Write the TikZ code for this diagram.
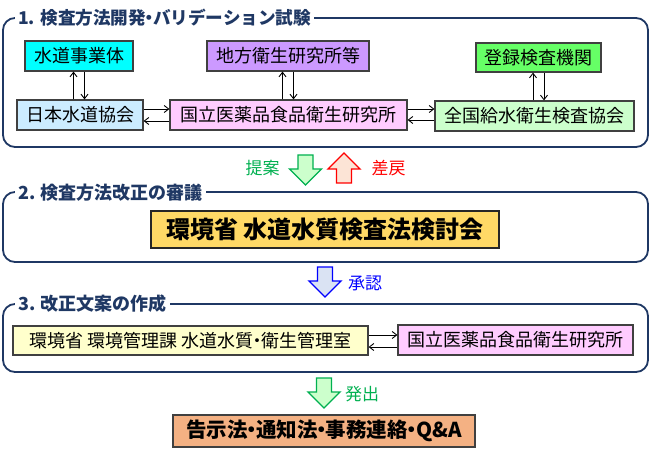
\documentclass[tikz,border=0pt]{standalone}
\usepackage{fontspec}
\setmainfont{Noto Sans CJK JP}
\usetikzlibrary{arrows.meta}
\newcommand{\nkg}{\kern-0.3em・\kern-0.3em}
\definecolor{navy}{HTML}{1F3864}
\definecolor{edge}{HTML}{404040}
\definecolor{cyanbox}{HTML}{00FFFF}
\definecolor{purplebox}{HTML}{CC99FF}
\definecolor{greenbox}{HTML}{66FF66}
\definecolor{lightblue}{HTML}{CCECFF}
\definecolor{pinkbox}{HTML}{FFCCFF}
\definecolor{lightgreen}{HTML}{CCFFCC}
\definecolor{goldbox}{HTML}{FFD966}
\definecolor{creambox}{HTML}{FFFFCC}
\definecolor{salmonbox}{HTML}{F4B183}
\definecolor{okgreen}{HTML}{00B050}
\definecolor{peach}{HTML}{FCE4D6}
\definecolor{paleblue}{HTML}{DAE3F3}
\definecolor{bluetext}{HTML}{0000FF}
\tikzset{
  panel/.style={draw=navy, line width=1.8pt, rounded corners=12pt},
  paneltitle/.style={fill=white, text=navy, font=\fontsize{18}{18}\selectfont\bfseries, anchor=west, inner xsep=3pt, inner ysep=1pt},
  box/.style={draw=edge, line width=1.2pt, inner sep=0pt, font=\fontsize{18}{18}\selectfont},
  bigbox/.style={draw=black!85, line width=2pt, inner sep=0pt, font=\fontsize{24}{24}\selectfont\bfseries},
  sarrow/.style={line width=0.9pt, -{Straight Barb[length=4.5pt,width=7pt]}},
  lbl/.style={font=\fontsize{17}{17}\selectfont, inner sep=0pt},
  blockdown/.pic={\path[pic actions] (-7.5,0) -- (7.5,0) -- (7.5,14) -- (16,14) -- (0,30) -- (-16,14) -- (-7.5,14) -- cycle;},
  blk/.style={line width=1.4pt, line join=miter}
}
\begin{document}
\begin{tikzpicture}[x=1pt,y=-1pt]
\useasboundingbox[fill=white] (0,0) rectangle (650,457);

% panels
\draw[panel] (3,18) rectangle (648,147);
\node[paneltitle, font=\fontsize{17.6}{17.6}\selectfont\bfseries] (t1) at (15,18) {1. 検査方法開発\nkg バリデーション試験};
\draw[panel] (3,192) rectangle (648,262);
\node[paneltitle] (t2) at (15,193) {2. 検査方法改正の審議};
\draw[panel] (3,304) rectangle (648,372);
\node[paneltitle] (t3) at (15,304) {3. 改正文案の作成};

% panel 1 nodes
\node[box, fill=cyanbox, minimum width=108pt, minimum height=30pt] (sd) at (79,56) {水道事業体};
\node[box, fill=purplebox, minimum width=162pt, minimum height=30pt] (chiho) at (288,56) {地方衛生研究所等};
\node[box, fill=greenbox, minimum width=125pt, minimum height=29pt] (toroku) at (538.5,57.5) {登録検査機関};
\node[box, fill=lightblue, minimum width=126pt, minimum height=30pt] (nihon) at (80,115) {日本水道協会};
\node[box, fill=pinkbox, minimum width=237pt, minimum height=30pt] (nihs) at (288.5,115) {国立医薬品食品衛生研究所};
\node[box, fill=lightgreen, minimum width=199pt, minimum height=30pt] (zenkoku) at (534.5,116) {全国給水衛生検査協会};

% vertical arrows
\draw[sarrow] ([xshift=-5.5pt]sd.south |- nihon.north) -- ([xshift=-5.5pt]sd.south);
\draw[sarrow] ([xshift=5.5pt]sd.south) -- ([xshift=5.5pt]sd.south |- nihon.north);
\draw[sarrow] ([xshift=-5.5pt]chiho.south |- nihs.north) -- ([xshift=-5.5pt]chiho.south);
\draw[sarrow] ([xshift=5.5pt]chiho.south) -- ([xshift=5.5pt]chiho.south |- nihs.north);
\draw[sarrow] ([xshift=-5.5pt]toroku.south |- zenkoku.north) -- ([xshift=-5.5pt]toroku.south);
\draw[sarrow] ([xshift=5.5pt]toroku.south) -- ([xshift=5.5pt]toroku.south |- zenkoku.north);

% horizontal arrows
\draw[sarrow] ([yshift=6pt]nihon.east) -- ([yshift=6pt]nihon.east -| nihs.west);
\draw[sarrow] ([yshift=-6pt]nihon.east -| nihs.west) -- ([yshift=-6pt]nihon.east);
\draw[sarrow] ([yshift=6pt]nihs.east) -- ([yshift=6pt]nihs.east -| zenkoku.west);
\draw[sarrow] ([yshift=-5pt]nihs.east -| zenkoku.west) -- ([yshift=-5pt]nihs.east);

% block arrows between 1 and 2
\pic[blk, draw=okgreen, fill=lightgreen] at (305.5,155) {blockdown};
\pic[blk, draw=red, fill=peach, yscale=-1] at (344,183) {blockdown};
\node[lbl, text=okgreen] (teian) at (262.5,168) {提案};
\node[lbl, text=red] (sashi) at (388.5,168) {差戻};

% panel 2
\node[bigbox, fill=goldbox, minimum width=348pt, minimum height=37pt] (kentou) at (325,229.5) {環境省 水道水質検査法検討会};

\pic[blk, draw=bluetext, fill=paleblue] at (325,267) {blockdown};
\node[lbl, text=bluetext] (shonin) at (365,283) {承認};

% panel 3
\node[box, fill=creambox, minimum width=355pt, minimum height=29pt] (kankyo) at (190.5,340.5) {環境省 環境管理課 水道水質\nkg 衛生管理室};
\node[box, fill=pinkbox, minimum width=235pt, minimum height=30pt] (nihs2) at (515.5,340) {国立医薬品食品衛生研究所};
\draw[sarrow] ([yshift=5.5pt]kankyo.east) -- ([yshift=5.5pt]kankyo.east -| nihs2.west);
\draw[sarrow] ([yshift=-6.5pt]kankyo.east -| nihs2.west) -- ([yshift=-6.5pt]kankyo.east);

\pic[blk, draw=okgreen, fill=lightgreen] at (324,378) {blockdown};
\node[lbl, text=okgreen] (hasshutsu) at (362,394) {発出};

\node[box, fill=salmonbox, draw=edge, line width=1.8pt, minimum width=302pt, minimum height=32pt, font=\fontsize{20.5}{20.5}\selectfont\bfseries] (kokuji) at (324,431) {告示法\nkg 通知法\nkg 事務連絡\nkg Q\&A};
\end{tikzpicture}
\end{document}
